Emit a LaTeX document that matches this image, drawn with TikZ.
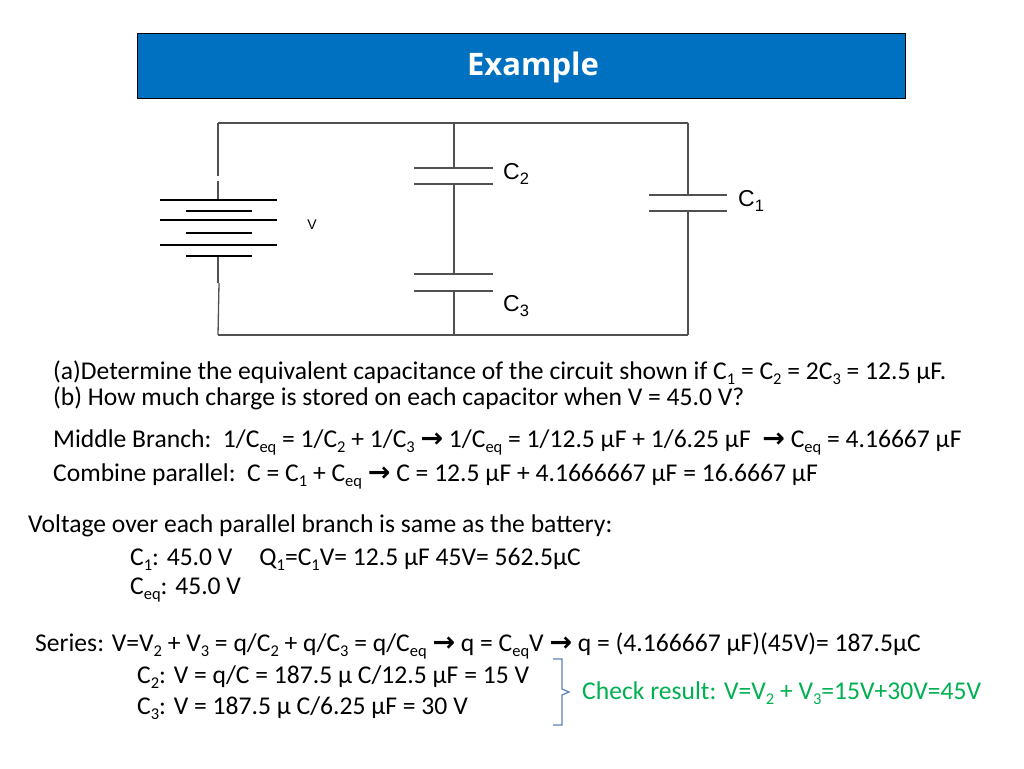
\documentclass[tikz,border=0pt]{standalone}
\usepackage{fontspec}
\setmainfont{Carlito}
\newfontfamily\headfont{Open Sans}
\newfontfamily\cktfont{Liberation Sans}
\newfontfamily\arrowfont{DejaVu Sans}
\usetikzlibrary{calc,positioning}

\definecolor{headblue}{HTML}{0070C0}
\definecolor{chkgreen}{HTML}{00B050}
\definecolor{bracecol}{HTML}{5B80B2}
\definecolor{wirecol}{HTML}{505050}

\newcommand{\sbs}[1]{\raisebox{-0.2em}{\fontsize{16.5}{16.5}\selectfont #1}}
\newcommand{\then}{{\arrowfont\bfseries\fontsize{27}{27}\selectfont →}}

\begin{document}
\begin{tikzpicture}[x=1pt,y=-1pt,
  wire/.style={draw=wirecol, line width=1.3pt},
  plate/.style={draw=black, line width=2.4pt},
  cplate/.style={draw=wirecol, line width=1.6pt},
  txt/.style={anchor=base west, inner sep=0pt, font=\fontsize{25.6}{30}\selectfont},
  lbl/.style={anchor=west, inner sep=0pt, font=\cktfont\fontsize{23}{26}\selectfont}]
  \useasboundingbox (0,0) rectangle (1024,768);

  % title bar
  \node[draw=black, fill=headblue, anchor=north west, inner sep=0pt,
        minimum width=768pt, minimum height=65pt] (head) at (137,33) {};
  \node[text=white, font=\headfont\bfseries\fontsize{31}{34}\selectfont] (title) at (533,67) {Example};

  % circuit corners
  \coordinate (TL) at (218,123);
  \coordinate (TM) at (454,123);
  \coordinate (TR) at (688,123);
  \coordinate (BL) at (218,335);
  \coordinate (BM) at (454,335);
  \coordinate (BR) at (688,335);

  \draw[wire] (TL) -- (TR);
  \draw[wire] (BL) -- (BR);

  % battery
  \draw[wire] (TL) -- (218,176);
  \draw[wire] (218,181) -- (218,200);
  \draw[wire] (218,256) -- (218,283);
  \draw[wire] (219,283) -- (BL);
  \foreach \y in {200,220,245}
    \draw[plate] (160,\y) -- (277,\y);
  \foreach \y in {211,233,256}
    \draw[plate] (186,\y) -- (252,\y);
  \node[anchor=center, inner sep=0pt, font=\cktfont\fontsize{14}{16}\selectfont] (V) at (312,225) {V};

  % middle branch
  \draw[wire] (TM) -- (454,168);
  \draw[wire] (454,184) -- (454,274);
  \draw[wire] (454,291) -- (BM);
  \foreach \y in {168,184,274,291}
    \draw[cplate] (414,\y) -- (493,\y);
  \node[lbl] (C2) at (503,174) {C\sbs{2}};
  \node[lbl] (C3) at (503,306) {C\sbs{3}};

  % right branch
  \draw[wire] (TR) -- (688,195);
  \draw[wire] (688,211) -- (BR);
  \foreach \y in {195,211}
    \draw[cplate] (649,\y) -- (727,\y);
  \node[lbl] (C1) at (738,201) {C\sbs{1}};

  % text
  \node[txt] (l1) at (53,379) {(a)Determine the equivalent capacitance of the circuit shown if C\sbs{1} = C\sbs{2} = 2C\sbs{3} = 12.5 μF.};
  \node[txt] (l2) at (53,405) {(b) How much charge is stored on each capacitor when V = 45.0 V?};
  \node[txt] (l3) at (53,447) {Middle Branch:\ \ 1/C\sbs{eq} = 1/C\sbs{2} + 1/C\sbs{3} \then{} 1/C\sbs{eq} = 1/12.5 μF + 1/6.25 μF\ \ \then{} C\sbs{eq} = 4.16667 μF};
  \node[txt] (l4) at (53,481) {Combine parallel:\ \ C = C\sbs{1} + C\sbs{eq} \then{} C = 12.5 μF + 4.1666667 μF = 16.6667 μF};
  \node[txt] (l5) at (28,532) {Voltage over each parallel branch is same as the battery:};
  \node[txt] (l6) at (130,565) {C\sbs{1}: 45.0 V\hspace{27pt}Q\sbs{1}=C\sbs{1}V= 12.5 μF 45V= 562.5μC};
  \node[txt] (l7) at (130,594) {C\sbs{eq}: 45.0 V};
  \node[txt] (l8) at (35,651) {Series: V=V\sbs{2} + V\sbs{3} = q/C\sbs{2} + q/C\sbs{3} = q/C\sbs{eq} \then{} q = C\sbs{eq}V \then{} q = (4.166667 μF)(45V)= 187.5μC};
  \node[txt] (l9) at (137,683) {C\sbs{2}: V = q/C = 187.5 μ C/12.5 μF = 15 V};
  \node[txt] (l10) at (137,714) {C\sbs{3}: V = 187.5 μ C/6.25 μF = 30 V};

  % check
  \draw[bracecol, line width=1.2pt] (553,659) -- (562,659) -- (562,689) -- (569,692) -- (562,695) -- (562,725) -- (553,725);
  \node[txt, text=chkgreen] (chk) at (582,699) {Check result: V=V\sbs{2} + V\sbs{3}=15V+30V=45V};
\end{tikzpicture}
\end{document}
